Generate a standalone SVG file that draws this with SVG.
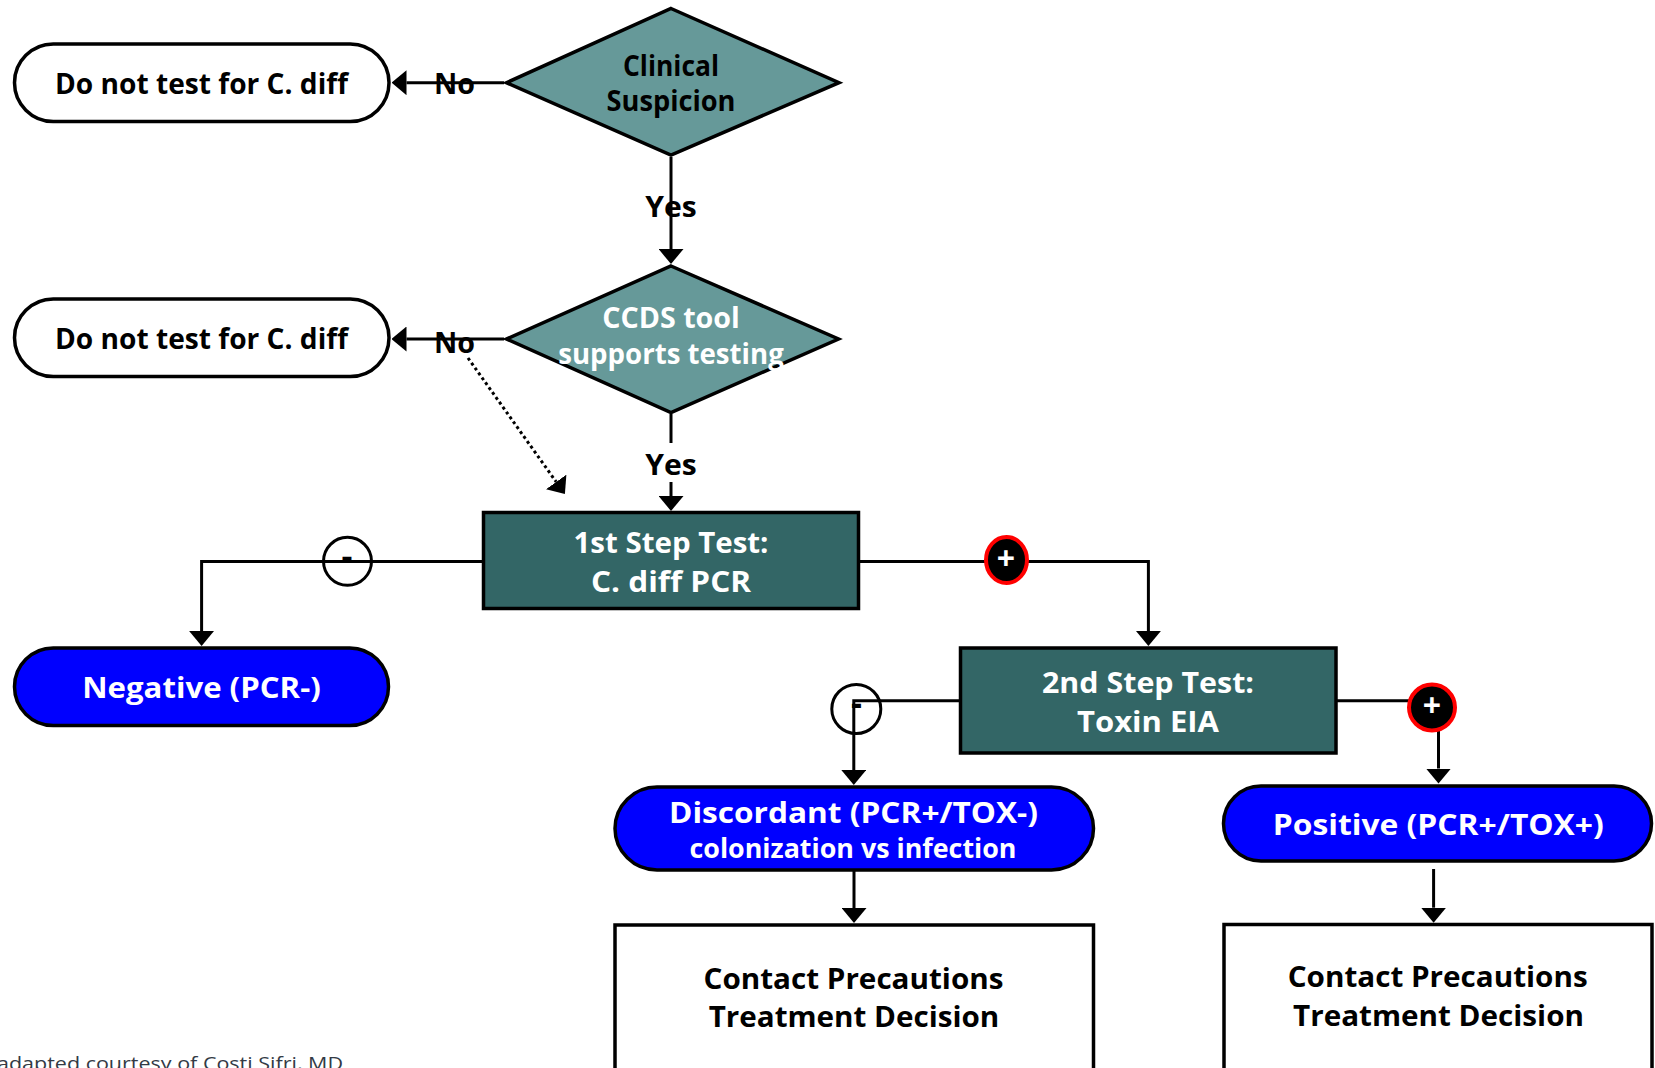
<svg xmlns="http://www.w3.org/2000/svg" width="1655" height="1068" viewBox="0 0 1655 1068">
  <defs>
    <style>
      .lbl { font-family: "Open Sans", "Noto Sans", "DejaVu Sans", sans-serif; font-weight: 700; font-size: 28px; text-anchor: middle; }
      .dark { fill: #000000; }
      .light { fill: #ffffff; }
      .term { fill: #ffffff; stroke: #000000; stroke-width: 3.5; }
      .result { fill: #0000ff; stroke: #000000; stroke-width: 3.5; }
      .decision { fill: #669999; stroke: #000000; stroke-width: 3.5; stroke-linejoin: miter; }
      .step { fill: #336666; stroke: #000000; stroke-width: 3.5; }
      .action { fill: #ffffff; stroke: #000000; stroke-width: 3.5; }
      .wire { fill: none; stroke: #000000; stroke-width: 3; }
      .dotted { fill: none; stroke: #000000; stroke-width: 3; stroke-dasharray: 3 3; }
      .neg { fill: none; stroke: #000000; stroke-width: 3; }
      .pos { fill: #000000; stroke: #ff0000; stroke-width: 4; }
      .sign { font-family: "Open Sans", "Noto Sans", "DejaVu Sans", sans-serif; font-weight: 700; text-anchor: middle; }
      .note { font-family: "Open Sans", "Noto Sans", "DejaVu Sans", sans-serif; font-size: 18.5px; fill: #333a45; }
    </style>
    <marker id="arrow" markerUnits="userSpaceOnUse" viewBox="0 0 15 25" markerWidth="15" markerHeight="25" refX="0" refY="12.5" orient="auto">
      <path d="M0,0 L15,12.5 L0,25 Z" fill="#000000"/>
    </marker>
  </defs>

  <!-- connectors -->
  <g id="connectors">
    <line class="wire" x1="504" y1="82.7" x2="406.5" y2="82.7" marker-end="url(#arrow)"/>
    <line class="wire" x1="671" y1="157" x2="671" y2="249" marker-end="url(#arrow)"/>
    <line class="wire" x1="504" y1="339" x2="406.5" y2="339" marker-end="url(#arrow)"/>
    <line class="dotted" x1="468" y1="358" x2="556.2" y2="481.9" marker-end="url(#arrow)"/>
    <line class="wire" x1="671" y1="414" x2="671" y2="443"/>
    <line class="wire" x1="671" y1="482" x2="671" y2="496" marker-end="url(#arrow)"/>
    <path class="wire" d="M483,561.5 H201.6 V631" marker-end="url(#arrow)"/>
    <path class="wire" d="M859,561.5 H1148.4 V631" marker-end="url(#arrow)"/>
    <path class="wire" d="M960,700.7 H853.8 V770" marker-end="url(#arrow)"/>
    <path class="wire" d="M1336,700.7 H1438.5 V768.5" marker-end="url(#arrow)"/>
    <line class="wire" x1="854" y1="871" x2="854" y2="908" marker-end="url(#arrow)"/>
    <line class="wire" x1="1433.6" y1="869" x2="1433.6" y2="907.7" marker-end="url(#arrow)"/>

    <!-- outcome markers on the branches -->
    <circle class="neg" cx="347.5" cy="561.3" r="24"/>
    <text class="sign dark" x="347" y="567.5" font-size="34">-</text>
    <ellipse class="pos" cx="1006.5" cy="560" rx="20.5" ry="23"/>
    <text class="sign light" x="1006" y="569.5" font-size="32">+</text>
    <circle class="neg" cx="856.3" cy="709" r="24.5"/>
    <text class="sign dark" x="856.5" y="714.5" font-size="34">-</text>
    <circle class="pos" cx="1432" cy="707.5" r="23"/>
    <text class="sign light" x="1432" y="716.5" font-size="32">+</text>

    <!-- branch labels -->
    <text class="lbl dark" x="454.5" y="94" textLength="41" lengthAdjust="spacingAndGlyphs">No</text>
    <text class="lbl dark" x="671" y="216.5" textLength="51.5" lengthAdjust="spacingAndGlyphs">Yes</text>
    <text class="lbl dark" x="454.5" y="352.5" textLength="41" lengthAdjust="spacingAndGlyphs">No</text>
    <text class="lbl dark" x="671" y="475" textLength="51.5" lengthAdjust="spacingAndGlyphs">Yes</text>
  </g>

  <g id="no-test-1">
    <rect class="term" x="14.5" y="44" width="374.5" height="77.5" rx="38.75"/>
    <text class="lbl dark" x="201.5" y="93.5" textLength="293" lengthAdjust="spacingAndGlyphs">Do not test for C. diff</text>
  </g>

  <g id="clinical-suspicion">
    <polygon class="decision" points="671,8.5 839,82.7 671,155 506.5,82.7"/>
    <text class="lbl dark" x="671" y="76" textLength="96" lengthAdjust="spacingAndGlyphs">Clinical</text>
    <text class="lbl dark" x="671" y="110.7" textLength="129" lengthAdjust="spacingAndGlyphs">Suspicion</text>
  </g>

  <g id="no-test-2">
    <rect class="term" x="14.5" y="299" width="374.5" height="77.5" rx="38.75"/>
    <text class="lbl dark" x="201.5" y="348.5" textLength="293" lengthAdjust="spacingAndGlyphs">Do not test for C. diff</text>
  </g>

  <g id="ccds-tool">
    <polygon class="decision" points="671,266 838.5,339 671,412.5 506.5,339"/>
    <text class="lbl light" x="671" y="328.3" textLength="137.7" lengthAdjust="spacingAndGlyphs">CCDS tool</text>
    <text class="lbl light" x="671" y="363.5" textLength="225.6" lengthAdjust="spacingAndGlyphs">supports testing</text>
  </g>

  <g id="first-step">
    <rect class="step" x="483.5" y="512.5" width="375" height="96"/>
    <text class="lbl light" x="671" y="553.3" textLength="195" lengthAdjust="spacingAndGlyphs">1st Step Test:</text>
    <text class="lbl light" x="671" y="591.7" textLength="160" lengthAdjust="spacingAndGlyphs">C. diff PCR</text>
  </g>

  <g id="negative">
    <rect class="result" x="14.5" y="648" width="374" height="77.5" rx="38.75"/>
    <text class="lbl light" x="201.5" y="698.3" textLength="238.4" lengthAdjust="spacingAndGlyphs">Negative (PCR-)</text>
  </g>

  <g id="second-step">
    <rect class="step" x="960.5" y="648" width="375.5" height="105"/>
    <text class="lbl light" x="1148" y="693.3" textLength="212" lengthAdjust="spacingAndGlyphs">2nd Step Test:</text>
    <text class="lbl light" x="1148" y="731.7" textLength="142" lengthAdjust="spacingAndGlyphs">Toxin EIA</text>
  </g>

  <g id="discordant">
    <rect class="result" x="615" y="787" width="478.5" height="83" rx="42" ry="41.5"/>
    <text class="lbl light" x="853.5" y="822.7" textLength="369" lengthAdjust="spacingAndGlyphs">Discordant (PCR+/TOX-)</text>
    <text class="lbl light" x="853" y="857.5" style="font-size:26px" textLength="327" lengthAdjust="spacingAndGlyphs">colonization vs infection</text>
  </g>

  <g id="positive">
    <rect class="result" x="1223.5" y="786" width="428" height="75" rx="37.5"/>
    <text class="lbl light" x="1438.3" y="835" textLength="331" lengthAdjust="spacingAndGlyphs">Positive (PCR+/TOX+)</text>
  </g>

  <g id="action-discordant">
    <rect class="action" x="615" y="925" width="478.5" height="200"/>
    <text class="lbl dark" x="853.5" y="989.3" textLength="300" lengthAdjust="spacingAndGlyphs">Contact Precautions</text>
    <text class="lbl dark" x="854" y="1027" textLength="290.6" lengthAdjust="spacingAndGlyphs">Treatment Decision</text>
  </g>

  <g id="action-positive">
    <rect class="action" x="1224" y="924.5" width="428" height="200"/>
    <text class="lbl dark" x="1437.7" y="987" textLength="300" lengthAdjust="spacingAndGlyphs">Contact Precautions</text>
    <text class="lbl dark" x="1438.5" y="1026" textLength="291" lengthAdjust="spacingAndGlyphs">Treatment Decision</text>
  </g>

  <text class="note" x="-3" y="1070" textLength="346" lengthAdjust="spacingAndGlyphs">adapted courtesy of Costi Sifri, MD</text>
</svg>
